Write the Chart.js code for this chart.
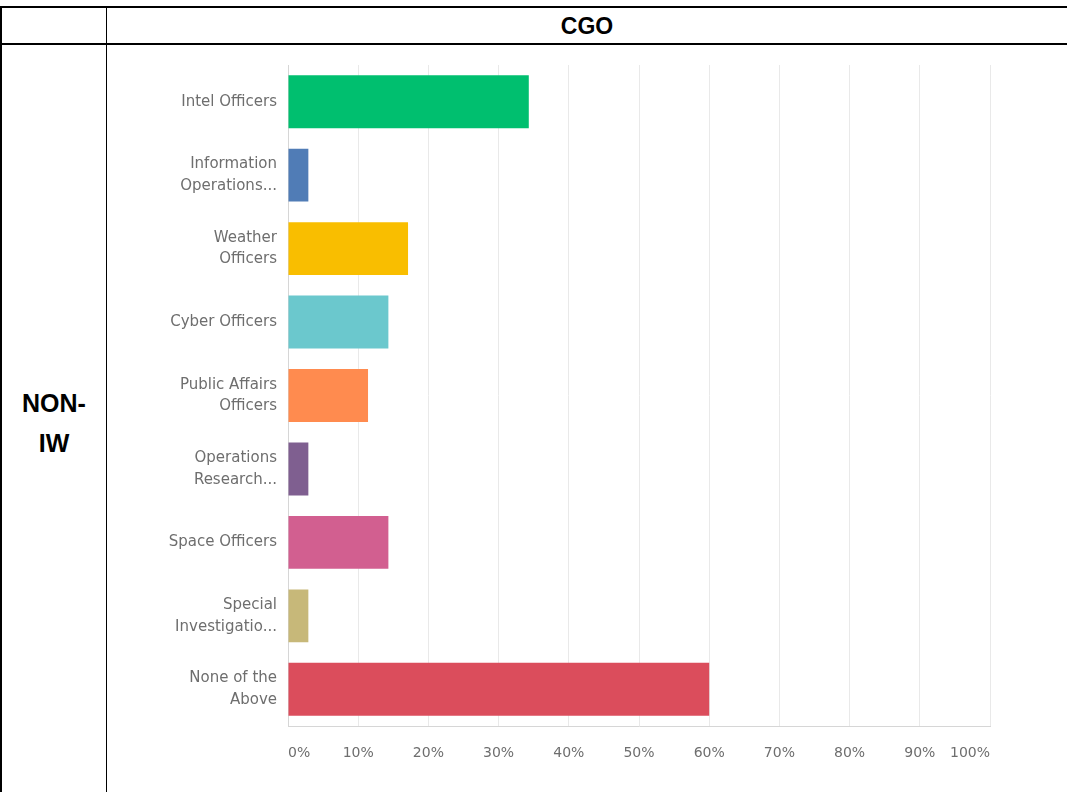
<!DOCTYPE html>
<html>
<head>
<meta charset="utf-8">
<script src="https://cdn.jsdelivr.net/npm/chart.js@4"></script>
<style>
    html, body { margin: 0; padding: 0; background: #fff; }
    body { width: 1067px; height: 792px; position: relative; overflow: hidden; font-family: "Liberation Sans", Arial, sans-serif; }
    .line { position: absolute; background: #000; }
    .head { position: absolute; left: 107px; right: 0; top: 8px; height: 35px; line-height: 36px; text-align: center; font-weight: bold; font-size: 23px; }
    .rowhead { position: absolute; left: 2px; width: 104px; top: 383px; text-align: center; font-weight: bold; font-size: 25px; line-height: 40px; }
    .chartbox { position: absolute; left: 120px; top: 45px; width: 900px; height: 747px; }
</style>
</head>
<body>
<div class="line" style="left:0;right:0;top:6px;height:2px"></div>
<div class="line" style="left:0;right:0;top:43px;height:2px"></div>
<div class="line" style="left:0;top:6px;bottom:0;width:2px"></div>
<div class="line" style="left:106px;top:6px;bottom:0;width:1px"></div>
<div class="head">CGO</div>
<div class="rowhead">NON-<br>IW</div>
<div class="chartbox"><canvas id="bars"></canvas></div>
<script>
const categories = [
    'Intel Officers',
    ['Information', 'Operations...'],
    ['Weather', 'Officers'],
    'Cyber Officers',
    ['Public Affairs', 'Officers'],
    ['Operations', 'Research...'],
    'Space Officers',
    ['Special', 'Investigatio...'],
    ['None of the', 'Above']
];
const percents = [34.3, 2.9, 17.1, 14.3, 11.4, 2.9, 14.3, 2.9, 60.0];
const barColors = ['#00bf6f', '#507cb6', '#f9be00', '#6bc8cd', '#ff8b4f', '#7f5f90', '#d25f90', '#c7b879', '#db4d5c'];
const tickValues = [0, 10, 20, 30, 40, 50, 60, 70, 80, 90, 100];

function initChart() {
    const ctx = document.getElementById('bars').getContext('2d');
    new Chart(ctx, {
        type: 'bar',
        data: {
            labels: categories,
            datasets: [{
                data: percents,
                backgroundColor: barColors,
                borderWidth: 0,
                barPercentage: 0.72,
                categoryPercentage: 1
            }]
        },
        options: {
            indexAxis: 'y',
            responsive: true,
            maintainAspectRatio: false,
            animation: false,
            layout: { padding: { top: 20, right: 30, left: 0, bottom: 0 } },
            plugins: { legend: { display: false }, tooltip: { enabled: false } },
            scales: {
                x: {
                    min: 0,
                    max: 100,
                    afterBuildTicks: (axis) => { axis.ticks = tickValues.map(v => ({ value: v })); },
                    afterFit: (axis) => { axis.height = 66; },
                    grid: { color: '#e9e9e9', drawTicks: false },
                    border: { color: '#d6d6d6' },
                    ticks: {
                        align: 'inner',
                        padding: 19,
                        color: '#6e6e6e',
                        font: { family: '"DejaVu Sans", sans-serif', size: 14 },
                        callback: (v) => v + '%'
                    }
                },
                y: {
                    afterFit: (axis) => {
                        axis.width = 168;
                        axis.paddingTop = 0;
                        axis.paddingBottom = 0;
                    },
                    grid: { display: false, drawTicks: false },
                    border: { display: true, color: '#d6d6d6' },
                    ticks: {
                        padding: 11,
                        color: '#6e6e6e',
                        font: { family: '"DejaVu Sans", sans-serif', size: 15, lineHeight: 1.45 }
                    }
                }
            }
        }
    });
}

initChart();
</script>
</body>
</html>
